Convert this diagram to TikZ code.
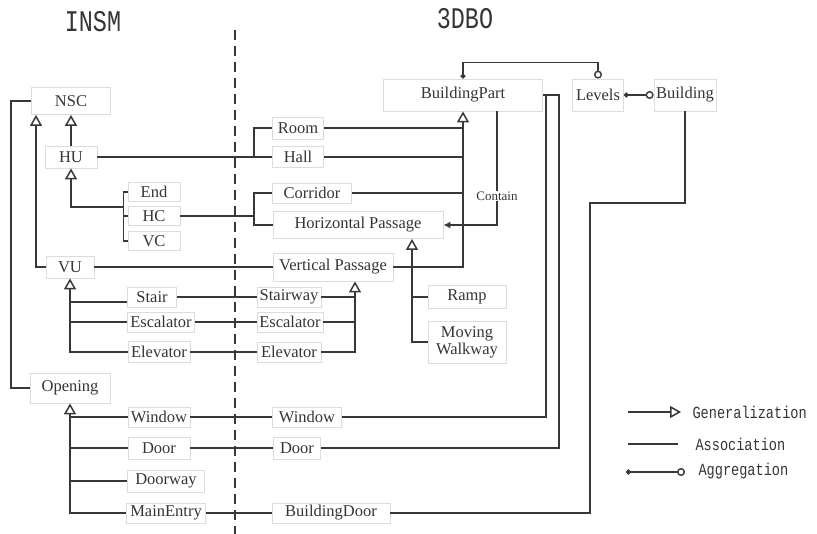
\documentclass[tikz,border=0pt]{standalone}
\usepackage{fontspec}
\setmainfont{Liberation Serif}
\newfontfamily\titlemono[FakeStretch=0.78]{Liberation Mono}
\newfontfamily\legendmono[FakeStretch=0.8]{Liberation Mono}
\usetikzlibrary{arrows.meta,calc}
\definecolor{ln}{HTML}{383838}
\definecolor{bx}{HTML}{DCDCDC}
\definecolor{tx}{HTML}{353535}
\tikzset{
  box/.style={draw=bx, line width=0.8pt, text=tx, inner sep=1pt, align=center,
    font=\fontsize{16.5}{17}\selectfont},
  sz/.style 2 args={minimum width=#1, minimum height=#2},
  conn/.style={draw=ln, line width=1.4pt},
  gen/.style={conn, -{Triangle[open, length=11pt, width=12pt, line width=1.5pt, fill=white]}},
  agg/.style={conn, {Circle[length=5pt]}-{Circle[open, length=8pt, line width=1.4pt, fill=white]}},
  cont/.style={conn, -{Latex[length=7pt, width=7pt]}},
  divider/.style={conn, dash pattern=on 10pt off 6pt},
  titletext/.style={text=tx, font=\titlemono\fontsize{30}{30}\selectfont},
  legtext/.style={text=tx, anchor=west, font=\legendmono\fontsize{17}{17}\selectfont},
  smalllabel/.style={fill=white, text=tx, inner sep=1pt, font=\fontsize{13}{13}\selectfont}
}
\begin{document}
\begin{tikzpicture}[x=1pt, y=-1pt]
\useasboundingbox (0,0) rectangle (817,534);
\fill[white] (0,0) rectangle (817,534);

% titles
\node[titletext] (insm) at (93,22) {INSM};
\node[titletext] (tdbo) at (465,19) {3DBO};

% divider
\coordinate (dtop) at (235,30);
\coordinate (dbot) at (235,534);
\draw[divider] (dtop) -- (dbot);

% INSM nodes
\node[box, sz={79}{27}] (nsc) at (71,101) {NSC};
\node[box, sz={52}{22}] (hu) at (71,157) {HU};
\node[box, sz={52}{19}] (end) at (154,192) {End};
\node[box, sz={52}{19}] (hc) at (154,216) {HC};
\node[box, sz={52}{19}] (vc) at (154,241) {VC};
\node[box, sz={48}{22}] (vu) at (70,267) {VU};
\node[box, sz={49}{20}] (stair) at (152,297) {Stair};
\node[box, sz={67}{20}] (escL) at (161,322) {Escalator};
\node[box, sz={62}{21}] (elevL) at (159,352) {Elevator};
\node[box, sz={80}{30}] (opening) at (70,388) {Opening};
\node[box, sz={62}{20}] (winL) at (159,417) {Window};
\node[box, sz={62}{22}] (doorL) at (159,448) {Door};
\node[box, sz={77}{22}] (doorway) at (166,481) {Doorway};
\node[box, sz={79}{20}] (mainE) at (166,513) {MainEntry};

% 3DBO nodes
\node[box, sz={159}{32}] (bp) at (463,95) {BuildingPart};
\node[box, sz={51}{32}] (levels) at (598,95) {Levels};
\node[box, sz={62}{32}] (building) at (685,95) {Building};
\node[box, sz={51}{22}] (room) at (298,128) {Room};
\node[box, sz={51}{21}] (hall) at (298,157) {Hall};
\node[box, sz={79}{20}] (corridor) at (312,193) {Corridor};
\node[box, sz={170}{27}] (hp) at (358,225) {Horizontal Passage};
\node[box, sz={120}{28}] (vp) at (333,267) {Vertical Passage};
\node[box, sz={64}{20}] (stairway) at (289,297) {Stairway};
\node[box, sz={66}{20}] (escR) at (290,322) {Escalator};
\node[box, sz={64}{20}] (elevR) at (289,352) {Elevator};
\node[box, sz={78}{23}] (ramp) at (467,297) {Ramp};
\node[box, sz={78}{42}] (mw) at (467,342) {Moving\\Walkway};
\node[box, sz={69}{20}] (winR) at (307,417) {Window};
\node[box, sz={47}{22}] (doorR) at (297,448) {Door};
\node[box, sz={118}{20}] (bdoor) at (331,513) {BuildingDoor};

% helper coordinates
\coordinate (hcj) at (124,207);
\coordinate (j1) at (254,157);
\coordinate (j2) at (254,216);
\coordinate (bj) at (590,203);
\path ([xshift=22pt]vp.south) coordinate (vpa);
\path ([xshift=54pt]hp.south) coordinate (hpa);
\path ([xshift=34pt]bp.south) coordinate (bpc);
\path ([xshift=-35pt]nsc.south) coordinate (nsca);

% INSM connectors
\draw[conn] (nsc.west) -- ++(-20,0) |- (opening.west);
\draw[gen] (vu.west) -| (nsca);
\draw[gen] (hu.north) -- (nsc.south);
\draw[conn] (end.west) -- ++(-4,0) |- (vc.west);
\draw[conn] (hc.west) -- ++(-4,0);
\draw[gen] (hcj) -| (hu.south);
\draw[gen] (elevL.west) -| (vu.south);
\draw[conn] (escL.west) -- (escL.west -| vu.south);
\draw[conn] ([yshift=-5pt]stair.west) -- ([yshift=-5pt]stair.west -| vu.south);
\draw[gen] (mainE.west) -| (opening.south);
\draw[conn] (winL.west) -- (winL.west -| opening.south);
\draw[conn] (doorL.west) -- (doorL.west -| opening.south);
\draw[conn] (doorway.west) -- (doorway.west -| opening.south);

% cross-model associations
\draw[conn] (hu.east) -- (hall.west);
\draw[conn] (j1) |- (room.west);
\draw[conn] (hc.east) -- (j2);
\draw[conn] (corridor.west) -| (j2) |- (hp.west);
\draw[conn] (vu.east) -- (vp.west);
\draw[conn] (stair.east) -- (stairway.west);
\draw[conn] (escL.east) -- (escR.west);
\draw[conn] (elevL.east) -- (elevR.west);
\draw[conn] (winL.east) -- (winR.west);
\draw[conn] (doorL.east) -- (doorR.west);
\draw[conn] (mainE.east) -- (bdoor.west);

% 3DBO connectors
\draw[gen] (elevR.east) -| (vpa);
\draw[conn] (stairway.east) -- (stairway.east -| vpa);
\draw[conn] (escR.east) -- (escR.east -| vpa);
\draw[gen] (mw.west) -| (hpa);
\draw[conn] (ramp.west) -- (ramp.west -| hpa);
\draw[gen] (vp.east) -| (bp.south);
\draw[conn] (room.east) -- (room.east -| bp.south);
\draw[conn] (hall.east) -- (hall.east -| bp.south);
\draw[conn] (corridor.east) -- (corridor.east -| bp.south);
\draw[cont] (bpc) |- (hp.east);
\node[smalllabel] (contain) at (497,196) {Contain};
\draw[agg] (bp.north) -- ++(0,-16) -| (levels.north);
\draw[agg] (levels.east) -- (building.west);
\draw[conn] (winR.east) -| ([xshift=3pt]bp.east) -- (bp.east);
\draw[conn] (doorR.east) -| ([xshift=16pt]bp.east) -- (bp.east);
\draw[conn] (bdoor.east) -| (bj) -| (building.south);

% legend
\coordinate (lg1a) at (628,412); \coordinate (lg1b) at (681,412);
\coordinate (lg2a) at (628,444); \coordinate (lg2b) at (678,444);
\coordinate (lg3a) at (626,472); \coordinate (lg3b) at (685,472);
\draw[gen] (lg1a) -- (lg1b);
\draw[conn] (lg2a) -- (lg2b);
\draw[agg] (lg3a) -- (lg3b);
\node[legtext] (lgen) at (689,412) {Generalization};
\node[legtext] (lass) at (692,444) {Association};
\node[legtext] (lagg) at (695,471) {Aggregation};
\end{tikzpicture}
\end{document}
